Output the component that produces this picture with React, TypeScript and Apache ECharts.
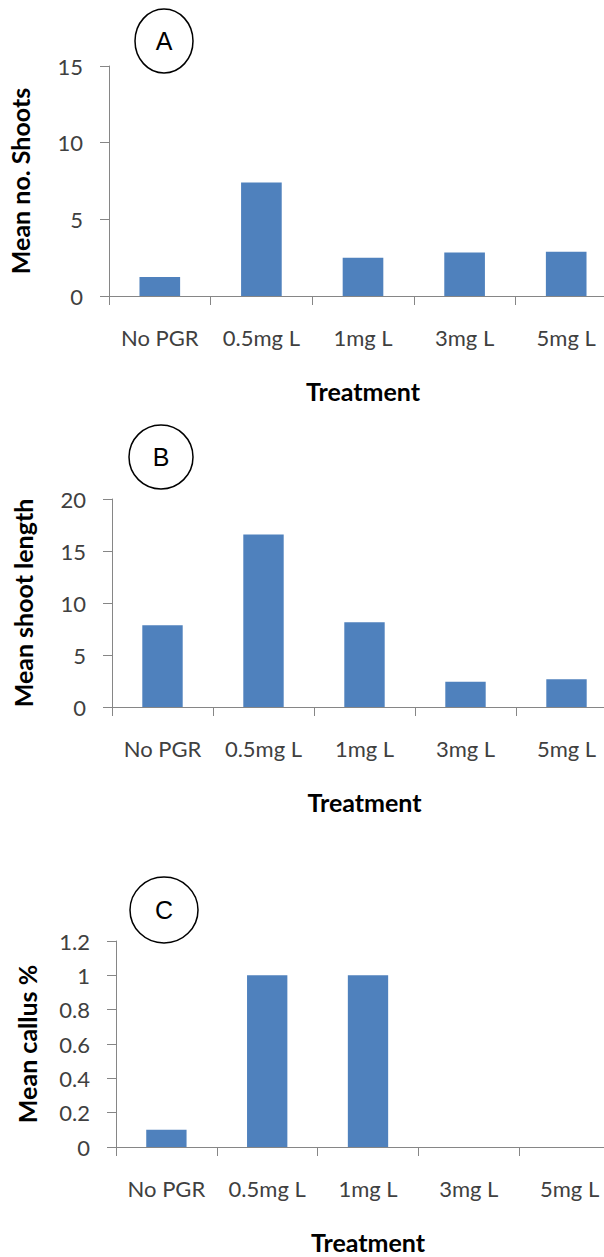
import React, { useEffect, useRef } from "react";
import * as echarts from "echarts";

const categories = ["No PGR", "0.5mg L", "1mg L", "3mg L", "5mg L"];
const meanShoots = [1.24, 7.41, 2.5, 2.83, 2.89];
const meanShootLength = [7.87, 16.58, 8.16, 2.42, 2.68];
const meanCallus = [0.1, 1, 1, 0, 0];

const panelLetters = ["A", "B", "C"];
const yTitles = ["Mean no. Shoots", "Mean shoot length", "Mean callus %"];
const xTitle = "Treatment";
const yMax = [15, 20, 1.2];
const yStep = [5, 5, 0.2];

const BAR = "#4F81BD";
const AXIS = "#868686";
const LABEL = "#404040";
const FONT = "Lato, 'Open Sans', sans-serif";

export default function App() {
  const ref = useRef<HTMLDivElement>(null);
  useEffect(() => {
    if (!ref.current) return;
    const chart = echarts.init(ref.current, undefined, { renderer: "svg" });
    const grids = [
      { left: 109, top: 66, width: 508, height: 230 },
      { left: 112, top: 499, width: 505, height: 208 },
      { left: 116, top: 941, width: 504, height: 206 },
    ];
    const series = [meanShoots, meanShootLength, meanCallus];
    const circles = [
      { cx: 164, cy: 41, rx: 29, ry: 32 },
      { cx: 161, cy: 457, rx: 32, ry: 32 },
      { cx: 164, cy: 910, rx: 34, ry: 33 },
    ];
    const option: any = {
      animation: false,
      backgroundColor: "#ffffff",
      grid: grids.map((g) => ({ ...g, containLabel: false, outerBoundsMode: "none" })),
      xAxis: grids.map((_, i) => ({
        gridIndex: i,
        type: "category",
        data: categories,
        axisLine: { show: true, lineStyle: { color: AXIS, width: 1 } },
        axisTick: { show: true, length: 9, lineStyle: { color: AXIS } },
        axisLabel: {
          interval: 0,
          margin: 30,
          fontSize: 22,
          color: LABEL,
          fontFamily: FONT,
        },
        name: xTitle,
        nameLocation: "middle",
        nameGap: 82,
        nameTextStyle: {
          fontSize: 25,
          fontWeight: "bold",
          color: "#000",
          fontFamily: FONT,
        },
      })),
      yAxis: grids.map((_, i) => ({
        gridIndex: i,
        type: "value",
        min: 0,
        max: yMax[i],
        interval: yStep[i],
        splitLine: { show: false },
        axisLine: { show: true, lineStyle: { color: AXIS, width: 1 } },
        axisTick: { show: true, length: 9, lineStyle: { color: AXIS } },
        axisLabel: {
          margin: 26,
          fontSize: 22,
          color: LABEL,
          fontFamily: FONT,
        },
        name: yTitles[i],
        nameLocation: "middle",
        nameGap: 77,
        nameTextStyle: {
          fontSize: 25,
          fontWeight: "bold",
          color: "#000",
          fontFamily: FONT,
        },
      })),
      series: series.map((d, i) => ({
        type: "bar",
        xAxisIndex: i,
        yAxisIndex: i,
        data: d,
        barWidth: "40%",
        itemStyle: { color: BAR },
      })),
      graphic: circles.flatMap((c, i) => [
        {
          type: "ellipse",
          shape: c,
          style: { fill: "#fff", stroke: "#000", lineWidth: 1.5 },
        },
        {
          type: "text",
          x: c.cx,
          y: c.cy,
          style: {
            text: panelLetters[i],
            fontSize: 25,
            fontFamily: "'Liberation Sans', Arial, sans-serif",
            fill: "#000",
            align: "center",
            verticalAlign: "middle",
          },
        },
      ]),
    };
    chart.setOption(option);
    return () => chart.dispose();
  }, []);
  return (
    <div
      ref={ref}
      style={{ position: "absolute", left: 0, top: 0, width: 604, height: 1257 }}
    />
  );
}
